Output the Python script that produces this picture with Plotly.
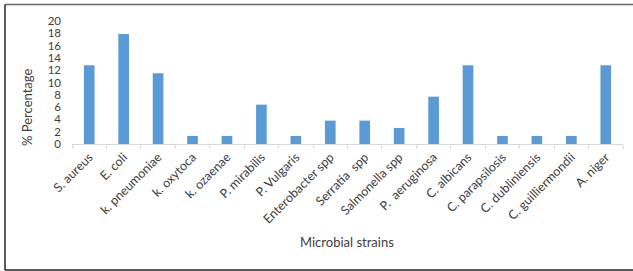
import plotly.graph_objects as go

categories = ["S. aureus", "E. coli", "k. pneumoniae", "k. oxytoca", "k. ozaenae",
              "P. mirabilis", "P. Vulgaris", "Enterobacter spp", "Serratia  spp",
              "Salmonella spp", "P.  aeruginosa", "C. albicans", "C. parapsilosis",
              "C. dubliniensis", "C. guilliermondii", "A. niger"]
values = [12.8, 17.9, 11.5, 1.3, 1.3, 6.4, 1.3, 3.8, 3.8, 2.6, 7.7, 12.8, 1.3, 1.3, 1.3, 12.8]
y_ticks = list(range(0, 21, 2))

W, H = 633, 271
L, R, T, B = 72, 10, 21, 127
pw, ph = W - L - R, H - T - B

def px(x):
    return (x - L) / pw

def py(y):
    return (H - B - y) / ph

FONT = "Lato, Open Sans, sans-serif"

fig = go.Figure(go.Bar(x=categories, y=values, marker=dict(color="#5b9bd5", line=dict(width=0)),
                       width=0.31))

fig.update_layout(
    width=W, height=H, margin=dict(l=L, r=R, t=T, b=B, autoexpand=False),
    paper_bgcolor="white", plot_bgcolor="white",
    showlegend=False,
    font=dict(family=FONT, color="#404040", size=13),
    xaxis=dict(type="category", tickangle=-45, tickfont=dict(size=12.5, color="#404040"),
               showline=True, linecolor="#d9d9d9", linewidth=1,
               ticks="outside", tickson="boundaries", ticklen=4, tickcolor="#d9d9d9",
               showgrid=False, range=[-0.5, 15.5], automargin=False),
    yaxis=dict(range=[0, 20], tickvals=y_ticks, showgrid=False, showline=False,
               zeroline=False, tickfont=dict(size=11.5, color="#404040"),
               ticklabelstandoff=10, automargin=False),
    annotations=[
        dict(text="% Percentage", x=px(27), y=py(108), xref="paper", yref="paper",
             textangle=-90, showarrow=False, font=dict(size=13, color="#404040"),
             xanchor="center", yanchor="middle"),
        dict(text="Microbial strains", x=px(347), y=py(242), xref="paper", yref="paper",
             showarrow=False, font=dict(size=13, color="#404040"),
             xanchor="center", yanchor="middle"),
    ],
    shapes=[
        dict(type="line", xref="paper", yref="paper", x0=px(5), x1=px(640), y0=py(4.5), y1=py(4.5),
             line=dict(color="#666666", width=1.5)),
        dict(type="line", xref="paper", yref="paper", x0=px(5), x1=px(5), y0=py(4.5), y1=py(270),
             line=dict(color="#222222", width=1.5)),
        dict(type="line", xref="paper", yref="paper", x0=px(5), x1=px(640), y0=py(270), y1=py(270),
             line=dict(color="#222222", width=1.5)),
    ],
)

fig.write_html("out.html", config={"displayModeBar": False},
               post_script="document.body.style.margin='0';document.body.style.overflow='hidden';")
